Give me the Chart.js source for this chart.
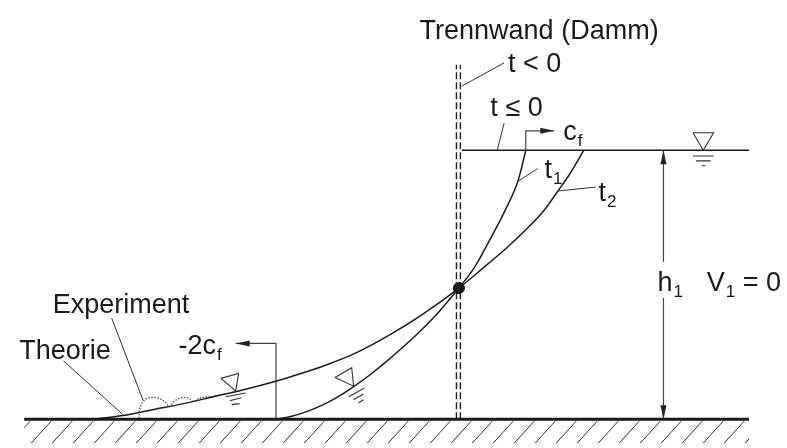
<!DOCTYPE html>
<html>
<head>
<meta charset="utf-8">
<script src="https://cdn.jsdelivr.net/npm/chart.js@4.4.1/dist/chart.umd.min.js"></script>
<style>
  html, body { margin: 0; padding: 0; background: #fff; }
  #wrap { width: 787px; height: 448px; }
</style>
</head>
<body>
<div id="wrap"><canvas id="chart" width="787" height="448"></canvas></div>
<script>
// x = Abstand vom Damm, y = Höhe über der Sohle (Bildeinheiten)
const sohle = [[-442, 0], [295, 0]];
const wasserOben = [[3, 277], [295, 277]];
const wandLinks = [[-2.5, 0], [-2.5, 365]];
const wandRechts = [[1.5, 0], [1.5, 365]];

const kurveT1 = [[-185, 0], [-170, 3], [-157, 7], [-140, 14], [-123, 23], [-107, 33.5], [-90, 46],
  [-73, 60], [-57, 74], [-40, 90], [-20, 111], [0, 135], [15, 155], [30, 182], [47, 215],
  [60, 245], [64, 260], [68, 277]];
const kurveT2 = [[-372, 0], [-340, 4], [-310, 10], [-280, 16], [-250, 23], [-220, 30], [-190, 38],
  [-170, 44], [-137, 55], [-103, 69], [-70, 87], [-37, 108], [0, 135], [25, 156], [47, 175],
  [67, 194], [85, 213], [100, 234], [113, 253], [127, 277]];
const experiment = [[-325, 1], [-325, 8], [-322, 17], [-317, 21.5], [-310, 22.5], [-304, 21],
  [-299, 18], [-294, 13], [-290, 18], [-284, 21.5], [-278, 22.5], [-273, 20.5], [-270, 18],
  [-265, 21], [-259, 22.5], [-253, 23], [-246, 23.5]];
const schnittpunkt = [[0, 135]];

// Pfeile (Spitze am letzten Punkt)
const pfeilCf = [[68, 277], [68, 297], [97, 297]];
const pfeil2Cf = [[-186, 0], [-186, 78], [-227, 78]];
const maszH1Oben = [[208, 162], [208, 277]];
const maszH1Unten = [[208, 125], [208, 0]];

// Hinweislinien
const hinweise = [
  [[-402, 60], [-342, 5]],
  [[-353, 104], [-321, 19]],
  [[3, 343], [46, 367]],
  [[39, 277], [46, 305]],
  [[60, 245], [80, 258]],
  [[101, 235], [139, 239]]
];

// Wasserspiegel-Symbole
const dreiecke = [
  [[238, 295], [259, 295], [248.5, 277], [238, 295]],
  [[-242, 42], [-224, 47], [-227, 29], [-242, 42]],
  [[-126, 43], [-109, 53], [-107, 34], [-126, 43]]
];
const spiegelStriche = [
  [[238, 271], [259, 271]], [[241, 266], [256, 266]], [[247, 261], [251, 261]],
  [[-237, 23], [-217, 27]], [[-233, 19], [-221, 22]], [[-231, 15], [-223, 16]],
  [[-112, 23], [-96, 32]], [[-107, 20], [-97, 26]], [[-102, 17], [-97, 20]]
];

const pts = a => a.map(([x, y]) => ({ x, y }));
function linie(data, opts) {
  return Object.assign({
    data: pts(data), showLine: true, pointRadius: 0, borderColor: '#1c1c1c',
    borderWidth: 1.5, tension: 0, fill: false
  }, opts || {});
}

const datasets = [
  linie(sohle, { borderWidth: 3, borderColor: '#1a1a1a' }),
  linie(wasserOben),
  linie(wandLinks, { borderDash: [7, 3], borderWidth: 1.4 }),
  linie(wandRechts, { borderDash: [7, 3], borderWidth: 1.4 }),
  linie(kurveT1, { cubicInterpolationMode: 'monotone' }),
  linie(kurveT2, { cubicInterpolationMode: 'monotone' }),
  linie(experiment, { tension: 0.35, borderDash: [1.5, 1.5], borderColor: '#555', borderWidth: 1.3 }),
  linie(pfeilCf, { borderColor: '#444', borderWidth: 1.2, pfeil: true }),
  linie(pfeil2Cf, { borderColor: '#444', borderWidth: 1.2, pfeil: true }),
  linie(maszH1Oben, { borderColor: '#444', borderWidth: 1.2, pfeil: true }),
  linie(maszH1Unten, { borderColor: '#444', borderWidth: 1.2, pfeil: true })
];
hinweise.forEach(h => datasets.push(linie(h, { borderColor: '#333', borderWidth: 1 })));
dreiecke.forEach(d => datasets.push(linie(d, { borderColor: '#333', borderWidth: 1.1 })));
spiegelStriche.forEach(s => datasets.push(linie(s, { borderColor: '#333', borderWidth: 1.1 })));
datasets.push({
  data: pts(schnittpunkt), pointRadius: 5.5, pointBackgroundColor: '#111',
  pointBorderColor: '#111', showLine: false
});

const schrift = '"Liberation Sans", Arial, sans-serif';
const beschriftungen = [
  { text: 'Trennwand (Damm)', x: -40, y: 392 },
  { text: 't < 0', x: 50, y: 358 },
  { text: 't \u2264 0', x: 32, y: 312 },
  { text: 'c', sub: 'f', x: 106, y: 288 },
  { text: 't', sub: '1', x: 87, y: 248 },
  { text: 't', sub: '2', x: 142, y: 225 },
  { text: 'h', sub: '1', x: 202, y: 132 },
  { text: 'V', sub: '1', nach: ' = 0', x: 252, y: 132 },
  { text: 'Experiment', x: -413, y: 109 },
  { text: 'Theorie', x: -447, y: 62 },
  { text: '-2c', sub: 'f', x: -285, y: 67 }
];

const zeichnung = {
  id: 'zeichnung',
  beforeDatasetsDraw(chart) {
    // Schraffur unter der Sohle
    const { ctx, scales: { x, y } } = chart;
    const x0 = x.getPixelForValue(sohle[0][0]);
    const x1 = x.getPixelForValue(sohle[1][0]);
    const gy = y.getPixelForValue(0);
    ctx.save();
    ctx.beginPath();
    ctx.rect(x0, gy + 1, x1 - x0, chart.height - gy);
    ctx.clip();
    ctx.strokeStyle = '#333';
    ctx.lineWidth = 1;
    for (let px = x0 + 6; px < x1 + 30; px += 21) {
      ctx.beginPath();
      ctx.moveTo(px, gy + 2);
      ctx.lineTo(px - 20, gy + 24);
      ctx.stroke();
    }
    ctx.restore();
  },
  afterDatasetsDraw(chart) {
    const { ctx, scales: { x, y } } = chart;
    ctx.save();
    // Pfeilspitzen
    chart.data.datasets.forEach(ds => {
      if (!ds.pfeil) return;
      const n = ds.data.length;
      const tx = x.getPixelForValue(ds.data[n - 1].x), ty = y.getPixelForValue(ds.data[n - 1].y);
      const fx = x.getPixelForValue(ds.data[n - 2].x), fy = y.getPixelForValue(ds.data[n - 2].y);
      const a = Math.atan2(ty - fy, tx - fx);
      ctx.save();
      ctx.translate(tx, ty);
      ctx.rotate(a);
      ctx.fillStyle = '#222';
      ctx.beginPath();
      ctx.moveTo(0, 0);
      ctx.lineTo(-14, -3);
      ctx.lineTo(-14, 3);
      ctx.closePath();
      ctx.fill();
      ctx.restore();
    });
    // Texte
    ctx.fillStyle = '#1a1a1a';
    ctx.textBaseline = 'alphabetic';
    ctx.textAlign = 'left';
    beschriftungen.forEach(b => {
      let px = x.getPixelForValue(b.x);
      const py = y.getPixelForValue(b.y);
      ctx.font = '27px ' + schrift;
      ctx.fillText(b.text, px, py);
      px += ctx.measureText(b.text).width;
      if (b.sub) {
        ctx.font = '17px ' + schrift;
        ctx.fillText(b.sub, px + 1, py + 6);
        px += ctx.measureText(b.sub).width + 1;
      }
      if (b.nach) {
        ctx.font = '27px ' + schrift;
        ctx.fillText(b.nach, px, py);
      }
    });
    ctx.restore();
  }
};

new Chart(document.getElementById('chart'), {
  type: 'scatter',
  data: { datasets },
  options: {
    responsive: false,
    animation: false,
    layout: { padding: 0 },
    plugins: { legend: { display: false }, tooltip: { enabled: false } },
    scales: {
      x: { type: 'linear', min: -460, max: 327, display: false },
      y: { type: 'linear', min: -23, max: 425, display: false }
    }
  },
  plugins: [zeichnung]
});
</script>
</body>
</html>
